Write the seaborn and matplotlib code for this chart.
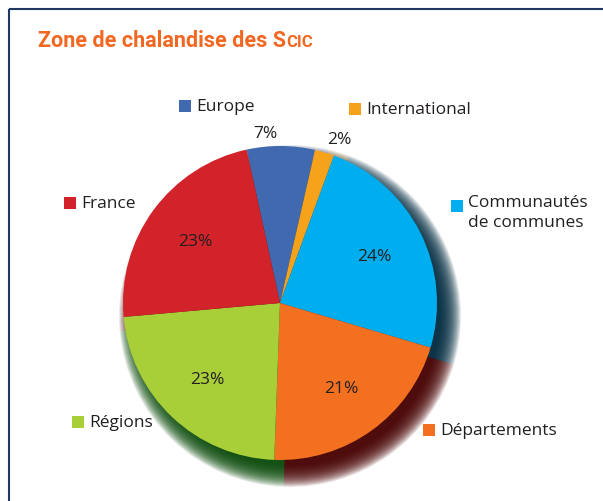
import matplotlib
matplotlib.use('Agg')
import matplotlib.pyplot as plt
import seaborn as sns
import numpy as np

# Data
categories = ['Europe', 'International', 'Communautés\nde communes',
              'Départements', 'Régions', 'France']
shares = [7, 2, 24, 21, 23, 23]
colors = ['#4169B0', '#F7A21B', '#00AEEF', '#F37021', '#A8CE38', '#D2232A']
shadow_colors = ['#1a2a55', '#5a3a00', '#002a40', '#480000', '#0a4a0a', '#4a0a0a']

sns.set_theme(style='white')
plt.rcParams['font.family'] = ['Open Sans', 'DejaVu Sans']

W, H = 603, 502
fig = plt.figure(figsize=(W / 100, H / 100), dpi=100)
ax = fig.add_axes([0, 0, 1, 1])


def py(y):
    # pixel row -> data y
    return H - y


cx, cy, R = 280, py(304), 157
start = 102.3
text_color = '#231F20'

# soft drop shadow, built from stacked translucent pies
for r in np.arange(R + 14, R - 8, -0.75):
    ax.pie(shares, colors=shadow_colors, startangle=start, counterclock=False,
           radius=r, center=(cx + 10, cy - 13),
           wedgeprops=dict(alpha=0.085, linewidth=0))

wedges, _, pcts = ax.pie(shares, colors=colors, startangle=start, counterclock=False,
                         radius=R, center=(cx, cy), autopct='%.0f%%', pctdistance=0.67,
                         wedgeprops=dict(linewidth=0),
                         textprops=dict(color=text_color, fontsize=12.5))

# pixel-like coordinates for everything else
ax.set_xlim(0, W)
ax.set_ylim(0, H)
ax.set_aspect('equal')
ax.axis('off')

# small slices get their value outside the pie
outside_pos = {0: (265, 134), 1: (339, 140)}
for i, (x, y) in outside_pos.items():
    pcts[i].set_position((x, py(y)))

# category labels with colour squares
label_pos = [(185, 107), (355, 110), (457, 207), (429, 431), (78, 423), (70, 204)]
for name, col, (x, y) in zip(categories, colors, label_pos):
    ax.scatter([x], [py(y)], marker='s', s=80, color=col, linewidths=0, zorder=5)
    if '\n' in name:
        ax.text(x + 11, py(y - 12), name, ha='left', va='top', fontsize=12.5,
                color=text_color, linespacing=1.3)
    else:
        ax.text(x + 11, py(y), name, ha='left', va='center', fontsize=12.5,
                color=text_color)

# title with small caps "Scic"
title_color = '#F26722'
title_font = ['Roboto', 'DejaVu Sans']
t1 = ax.text(38, py(47), 'Zone de chalandise des S', fontsize=15.5, fontweight='bold',
             color=title_color, family=title_font, va='baseline')
fig.canvas.draw()
bb = t1.get_window_extent()
x_end = ax.transData.inverted().transform((bb.x1, bb.y0))[0]
ax.text(x_end + 0.5, py(47), 'CIC', fontsize=12, fontweight='bold',
        color=title_color, family=title_font, va='baseline', ha='left')

# frame lines (top and left)
frame_color = '#1f3864'
ax.plot([8.5, W], [py(9.5), py(9.5)], color=frame_color, lw=1.5, solid_capstyle='butt')
ax.plot([8.5, 8.5], [py(9.5), 0], color=frame_color, lw=1.5, solid_capstyle='butt')

fig.savefig('out.png', dpi=100, facecolor='white')
